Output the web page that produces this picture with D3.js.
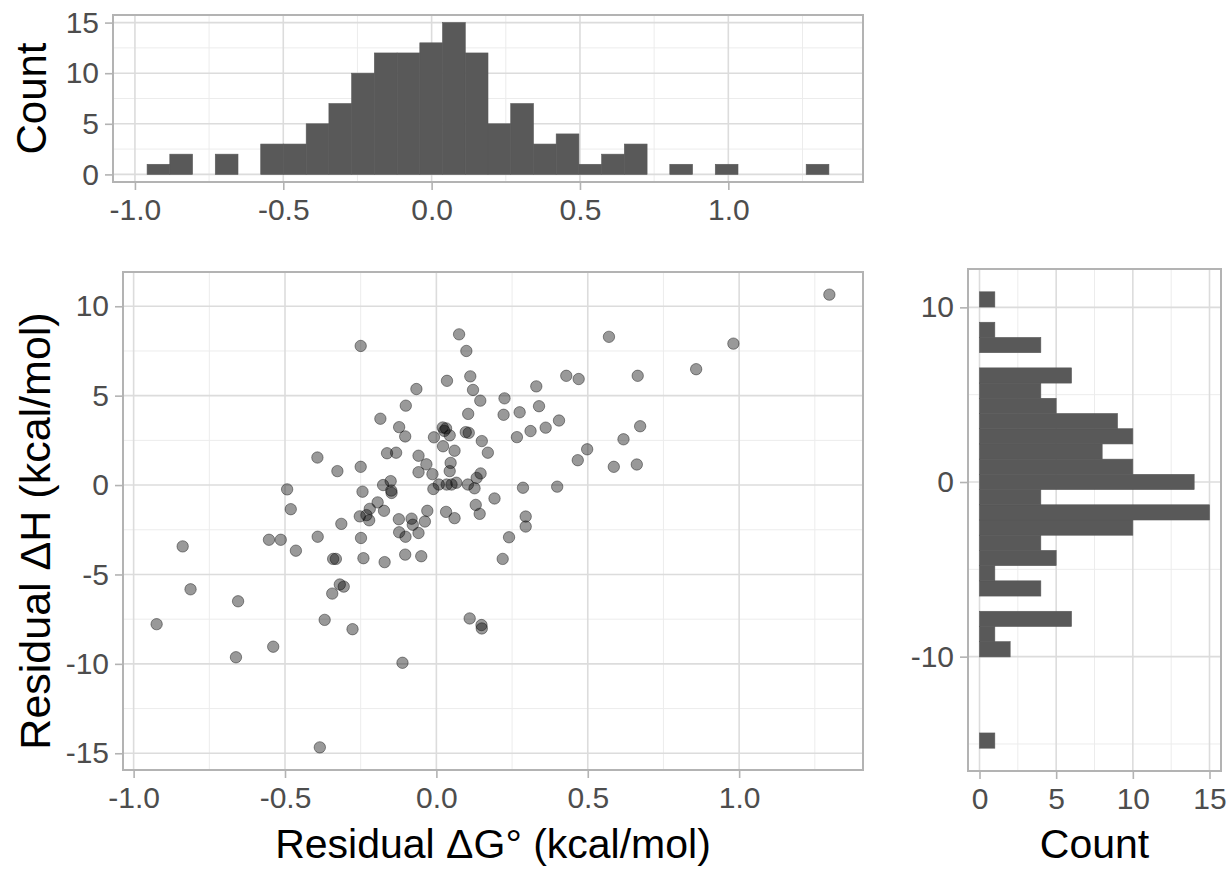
<!DOCTYPE html>
<html>
<head>
<meta charset="utf-8">
<script src="https://cdn.jsdelivr.net/npm/d3@7"></script>
<style>
  body { margin: 0; background: #fff; }
  svg text { font-family: "Liberation Sans", Arial, sans-serif; }
</style>
</head>
<body>
<div id="chart"></div>
<script>
// Residuals (kcal/mol)
const residG = [1.298, 0.570, 0.981, 0.858, 0.665, 0.429, 0.470, 0.330, 0.225, 0.145,
  0.339, 0.222, 0.275, 0.405, 0.361, 0.311, 0.266, 0.673, 0.618, 0.498,
  0.467, 0.586, 0.662, 0.150, 0.170, 0.146, 0.133, 0.286, 0.399, 0.192,
  0.130, 0.143, 0.295, 0.295, 0.240, 0.219, -0.250, 0.075, 0.099, 0.035,
  0.112, 0.121, -0.066, -0.101, -0.185, -0.123, -0.103, 0.105, 0.021, 0.032,
  0.026, 0.044, -0.008, 0.097, 0.107, 0.022, 0.060, -0.163, -0.133, -0.059,
  -0.393, -0.327, -0.250, -0.033, -0.059, -0.013, 0.047, 0.044, -0.151, -0.176,
  -0.149, -0.148, -0.244, -0.010, 0.008, 0.034, 0.050, 0.066, 0.104, 0.126,
  -0.493, -0.481, -0.194, -0.220, -0.231, -0.253, -0.222, -0.173, -0.314, -0.124,
  -0.082, -0.078, -0.038, -0.030, -0.123, -0.102, -0.059, 0.032, 0.060, -0.553,
  -0.514, -0.464, -0.392, -0.249, -0.341, -0.332, -0.241, -0.171, -0.103, -0.050,
  -0.319, -0.306, -0.344, -0.655, -0.838, -0.812, -0.924, -0.369, -0.277, -0.539,
  -0.662, -0.112, 0.110, 0.149, 0.150, -0.385];
const residH = [10.65, 8.29, 7.91, 6.48, 6.11, 6.11, 5.93, 5.52, 4.85, 4.72,
  4.41, 3.93, 4.07, 3.61, 3.21, 3.02, 2.68, 3.29, 2.56, 2.00,
  1.39, 1.02, 1.15, 2.46, 1.81, 0.65, 0.40, -0.15, -0.09, -0.75,
  -1.11, -1.61, -1.76, -2.32, -2.92, -4.13, 7.78, 8.43, 7.50, 5.83,
  6.08, 5.32, 5.37, 4.44, 3.71, 3.24, 2.72, 3.98, 3.22, 3.17,
  3.03, 2.78, 2.67, 2.96, 2.92, 2.17, 1.92, 1.78, 1.81, 1.64,
  1.54, 0.78, 1.02, 1.16, 0.72, 0.61, 1.24, 0.78, 0.22, 0.00,
  -0.31, -0.44, -0.37, -0.22, 0.03, 0.03, 0.03, 0.13, 0.03, -0.18,
  -0.24, -1.35, -0.97, -1.33, -1.68, -1.75, -1.97, -1.44, -2.17, -1.91,
  -1.88, -2.22, -2.04, -1.44, -2.64, -2.89, -2.68, -1.50, -1.85, -3.06,
  -3.06, -3.67, -2.89, -2.96, -4.13, -4.13, -4.09, -4.31, -3.89, -3.98,
  -5.56, -5.68, -6.07, -6.50, -3.43, -5.83, -7.78, -7.54, -8.06, -9.04,
  -9.63, -9.94, -7.46, -7.83, -8.02, -14.67];

// Top histogram of residual dG: 30 bins
const gBinStart = -0.959, gBinWidth = 0.0766;
const gCounts = [1, 2, 0, 2, 0, 3, 3, 5, 7, 10, 12, 12, 13, 15, 12,
  5, 7, 3, 4, 1, 2, 3, 0, 1, 0, 1, 0, 0, 0, 1];

// Right histogram of residual dH: 30 bins, from the bottom up
const hBinStart = -15.24, hBinWidth = 0.871;
const hCounts = [1, 0, 0, 0, 0, 0, 2, 1, 6, 0, 4, 1, 5, 4, 10,
  15, 4, 14, 10, 8, 10, 9, 5, 4, 6, 0, 4, 1, 0, 1];

// Breaks
const gMajor = [-1.0, -0.5, 0.0, 0.5, 1.0];
const gMinor = [-0.75, -0.25, 0.25, 0.75, 1.25];
const hMajor = [-15, -10, -5, 0, 5, 10];
const hMinor = [-12.5, -7.5, -2.5, 2.5, 7.5];
const hMajorSide = [-10, 0, 10];
const hMinorSide = [-15, -5, 5];
const countMajor = [0, 5, 10, 15];
const countMinor = [2.5, 7.5, 12.5];

const width = 1230, height = 869;
const tickSize = 30, titleSize = 41;

const svg = d3.select("#chart")
  .append("svg")
    .attr("width", width)
    .attr("height", height);

// ggplot-style 5% padding
function expand(lo, hi) {
  const d = (hi - lo) * 0.05;
  return [lo - d, hi + d];
}

// panel areas
const topBox = { x0: 113, x1: 863, y0: 15, y1: 182 };
const mainBox = { x0: 123, x1: 863, y0: 272, y1: 770 };
const sideBox = { x0: 968, x1: 1221, y0: 269, y1: 771 };

const fmt1 = d => d.toFixed(1);
const fmt0 = d => String(d);

// draws grid lines for a panel
function grid(box, x, y, xMaj, xMin, yMaj, yMin) {
  const g = svg.append("g");
  g.selectAll(".vmin").data(xMin).join("line")
    .attr("x1", d => x(d)).attr("x2", d => x(d))
    .attr("y1", box.y0).attr("y2", box.y1)
    .attr("stroke", "#ececec").attr("stroke-width", 1);
  g.selectAll(".hmin").data(yMin).join("line")
    .attr("y1", d => y(d)).attr("y2", d => y(d))
    .attr("x1", box.x0).attr("x2", box.x1)
    .attr("stroke", "#ececec").attr("stroke-width", 1);
  g.selectAll(".vmaj").data(xMaj).join("line")
    .attr("x1", d => x(d)).attr("x2", d => x(d))
    .attr("y1", box.y0).attr("y2", box.y1)
    .attr("stroke", "#dcdcdc").attr("stroke-width", 1.6);
  g.selectAll(".hmaj").data(yMaj).join("line")
    .attr("y1", d => y(d)).attr("y2", d => y(d))
    .attr("x1", box.x0).attr("x2", box.x1)
    .attr("stroke", "#dcdcdc").attr("stroke-width", 1.6);
}

function border(box) {
  svg.append("rect")
    .attr("x", box.x0).attr("y", box.y0)
    .attr("width", box.x1 - box.x0).attr("height", box.y1 - box.y0)
    .attr("fill", "none")
    .attr("stroke", "#b3b3b3")
    .attr("stroke-width", 2);
}

function axes(box, x, y, xTicks, yTicks, xFmt, yFmt) {
  const ax = svg.append("g")
    .attr("transform", `translate(0,${box.y1})`)
    .call(d3.axisBottom(x).tickValues(xTicks).tickFormat(xFmt).tickSize(8).tickPadding(9));
  const ay = svg.append("g")
    .attr("transform", `translate(${box.x0},0)`)
    .call(d3.axisLeft(y).tickValues(yTicks).tickFormat(yFmt).tickSize(8).tickPadding(6));
  [ax, ay].forEach(a => {
    a.select(".domain").remove();
    a.selectAll(".tick line").attr("stroke", "#b3b3b3").attr("stroke-width", 1.6);
    a.selectAll(".tick text")
      .attr("fill", "#4d4d4d")
      .style("font-size", tickSize + "px")
      .style("font-family", '"Liberation Sans", Arial, sans-serif');
  });
}

// ---------- top histogram ----------
const gEdges = d3.range(gCounts.length + 1).map(i => gBinStart + i * gBinWidth);
const xTop = d3.scaleLinear()
  .domain(expand(gEdges[0], gEdges[gEdges.length - 1]))
  .range([topBox.x0, topBox.x1]);
const yTop = d3.scaleLinear()
  .domain(expand(0, d3.max(gCounts)))
  .range([topBox.y1, topBox.y0]);

grid(topBox, xTop, yTop, gMajor, gMinor, countMajor, countMinor);
svg.append("g").selectAll("rect")
  .data(gCounts.map((c, i) => ({ c: c, lo: gEdges[i], hi: gEdges[i + 1] })).filter(d => d.c > 0))
  .join("rect")
    .attr("x", d => xTop(d.lo))
    .attr("width", d => xTop(d.hi) - xTop(d.lo))
    .attr("y", d => yTop(d.c))
    .attr("height", d => yTop(0) - yTop(d.c))
    .attr("fill", "#595959")
    .attr("stroke", "#595959")
    .attr("stroke-width", 0.6);
border(topBox);
axes(topBox, xTop, yTop, gMajor, countMajor, fmt1, fmt0);

// ---------- main scatter ----------
const x = d3.scaleLinear()
  .domain(expand(d3.min(residG), d3.max(residG)))
  .range([mainBox.x0, mainBox.x1]);
const y = d3.scaleLinear()
  .domain(expand(d3.min(residH), d3.max(residH)))
  .range([mainBox.y1, mainBox.y0]);

grid(mainBox, x, y, gMajor, gMinor, hMajor, hMinor);
svg.append("g").selectAll("circle")
  .data(d3.zip(residG, residH))
  .join("circle")
    .attr("cx", d => x(d[0]))
    .attr("cy", d => y(d[1]))
    .attr("r", 5.7)
    .attr("fill", "#000")
    .attr("fill-opacity", 0.4)
    .attr("stroke", "#000")
    .attr("stroke-opacity", 0.4)
    .attr("stroke-width", 1);
border(mainBox);
axes(mainBox, x, y, gMajor, hMajor, fmt1, fmt0);

// ---------- right histogram ----------
const hEdges = d3.range(hCounts.length + 1).map(i => hBinStart + i * hBinWidth);
const xSide = d3.scaleLinear()
  .domain(expand(0, d3.max(hCounts)))
  .range([sideBox.x0, sideBox.x1]);
const ySide = d3.scaleLinear()
  .domain(expand(hEdges[0], hEdges[hEdges.length - 1]))
  .range([sideBox.y1, sideBox.y0]);

grid(sideBox, xSide, ySide, countMajor, countMinor, hMajorSide, hMinorSide);
svg.append("g").selectAll("rect")
  .data(hCounts.map((c, i) => ({ c: c, lo: hEdges[i], hi: hEdges[i + 1] })).filter(d => d.c > 0))
  .join("rect")
    .attr("x", xSide(0))
    .attr("width", d => xSide(d.c) - xSide(0))
    .attr("y", d => ySide(d.hi))
    .attr("height", d => ySide(d.lo) - ySide(d.hi))
    .attr("fill", "#595959")
    .attr("stroke", "#595959")
    .attr("stroke-width", 0.6);
border(sideBox);
axes(sideBox, xSide, ySide, countMajor, hMajorSide, fmt0, fmt0);

// ---------- titles ----------
function title(txt, tx, ty, rot, size) {
  svg.append("text")
    .attr("transform", `translate(${tx},${ty}) rotate(${rot})`)
    .attr("text-anchor", "middle")
    .attr("fill", "#000")
    .style("font-size", size + "px")
    .text(txt);
}
title("Count", 46, (topBox.y0 + topBox.y1) / 2, -90, titleSize + 1);
title("Residual \u0394H (kcal/mol)", 50, 531, -90, titleSize + 2);
title("Residual \u0394G\u00b0 (kcal/mol)", (mainBox.x0 + mainBox.x1) / 2, 858, 0, titleSize);
title("Count", (sideBox.x0 + sideBox.x1) / 2, 858, 0, titleSize);
</script>
</body>
</html>
